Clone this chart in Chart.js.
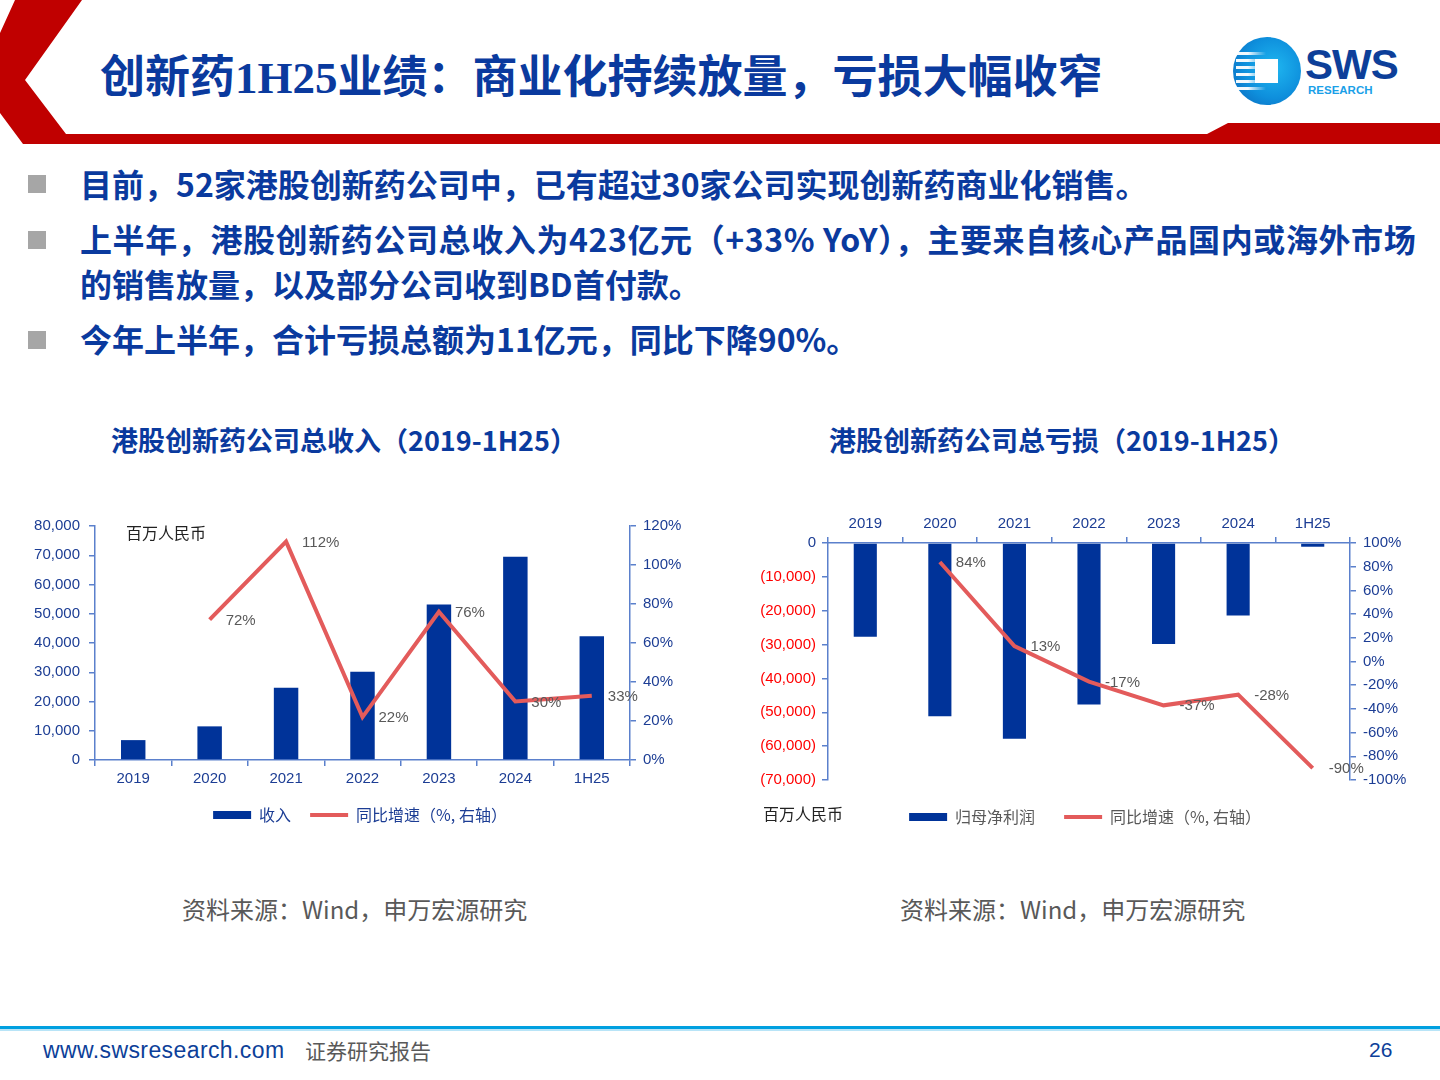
<!DOCTYPE html>
<html>
<head>
<meta charset="utf-8">
<script src="https://cdn.jsdelivr.net/npm/chart.js@4.4.0/dist/chart.umd.min.js"></script>
<style>
  body { margin: 0; background: #fff; }
  #page { position: relative; width: 1440px; height: 1080px; overflow: hidden; background: #fff;
          font-family: "Noto Sans CJK SC", sans-serif; }
  .abs { position: absolute; white-space: nowrap; }
  .title { left: 100px; top: 50px; font-size: 45px; line-height: 56px; font-weight: 700; color: #0a3a9e;
           font-family: "Liberation Serif", "Noto Sans CJK SC", serif; }
  .bullet { left: 80px; font-size: 32px; line-height: 40px; font-weight: 700; color: #0a3a9e; }
  .sq { left: 28px; width: 18px; height: 18px; background: #a6a6a6; }
  .ctitle { font-size: 27px; line-height: 36px; font-weight: 700; color: #0a3a9e; }
  .src { font-size: 24px; line-height: 32px; color: #595959; }
  .unit { font-size: 16px; line-height: 22px; color: #222; }
  .box { position: absolute; }
</style>
</head>
<body>
<div id="page">
  <svg class="abs" style="left:0;top:0" width="1440" height="150">
    <polygon fill="#c00000" points="15,0 82,0 25,80 66,134 1207,134 1228,123 1440,123 1440,144 23,144 0,113 0,33"/>
  </svg>
  <div class="abs title">创新药1H25业绩：商业化持续放量，亏损大幅收窄</div>

  <!-- logo -->
  <div class="abs" style="left:1233px;top:37px;width:68px;height:68px;border-radius:50%;
       background:radial-gradient(circle at 60% 45%, #1fb6f0 0%, #0e8fdc 55%, #0a63b8 100%);"></div>
  <div class="abs" style="left:1236px;top:52px;width:30px;height:38px;
       background:repeating-linear-gradient(180deg, rgba(255,255,255,0.95) 0 3px, rgba(255,255,255,0) 3px 7px);
       -webkit-mask:linear-gradient(90deg,#000 0%,#000 40%,transparent 100%);"></div>
  <div class="abs" style="left:1255px;top:59px;width:23px;height:24px;background:#fff;"></div>
  <div class="abs" style="left:1305px;top:40px;font-family:'Liberation Sans',Arial;font-weight:700;font-size:42px;line-height:50px;color:#0d3f99;letter-spacing:-1px;">SWS</div>
  <div class="abs" style="left:1308px;top:83px;font-family:'Liberation Sans',Arial;font-weight:700;font-size:11.5px;line-height:14px;color:#1aa0e8;">RESEARCH</div>

  <div class="abs sq" style="top:175px"></div>
  <div class="abs bullet" style="top:163px">目前，52家港股创新药公司中，已有超过30家公司实现创新药商业化销售。</div>
  <div class="abs sq" style="top:231px"></div>
  <div class="abs bullet" style="top:218px;letter-spacing:0.6px">上半年，港股创新药公司总收入为423亿元（+33% YoY），主要来自核心产品国内或海外市场</div>
  <div class="abs bullet" style="top:263px">的销售放量，以及部分公司收到BD首付款。</div>
  <div class="abs sq" style="top:331px"></div>
  <div class="abs bullet" style="top:318px">今年上半年，合计亏损总额为11亿元，同比下降90%。</div>

  <div class="abs ctitle" style="left:111px;top:422px">港股创新药公司总收入（2019-1H25）</div>
  <div class="abs ctitle" style="left:829px;top:422px">港股创新药公司总亏损（2019-1H25）</div>

  <div class="box" style="left:20px;top:508px;width:680px;height:325px"><canvas id="revChart"></canvas></div>
  <div class="box" style="left:740px;top:500px;width:690px;height:335px"><canvas id="lossChart"></canvas></div>

  <div class="abs unit" style="left:126px;top:521px">百万人民币</div>
  <div class="abs unit" style="left:763px;top:802px">百万人民币</div>

  <div class="abs src" style="left:182px;top:893px">资料来源：Wind，申万宏源研究</div>
  <div class="abs src" style="left:900px;top:893px">资料来源：Wind，申万宏源研究</div>

  <div class="abs" style="left:0;top:1026px;width:1440px;height:3px;background:#00a0e0"></div>
  <div class="abs" style="left:0;top:1029px;width:1440px;height:2px;background:#b8e4f7"></div>
  <div class="abs" style="left:43px;top:1036px;font-family:'Liberation Sans Narrow','Liberation Sans',Arial;font-size:23px;line-height:28px;color:#0d3f99;letter-spacing:0.4px">www.swsresearch.com</div>
  <div class="abs" style="left:305px;top:1036px;font-size:21px;line-height:28px;color:#595959">证券研究报告</div>
  <div class="abs" style="left:1369px;top:1036px;font-family:'Liberation Sans',Arial;font-size:21px;line-height:28px;color:#0d3f99">26</div>
</div>

<script>
// ---- data ----
var periods = ['2019', '2020', '2021', '2022', '2023', '2024', '1H25'];
var revenue = [6800, 11500, 24700, 30200, 53200, 69500, 42300];          // 百万人民币
var revenueYoY = [null, 72, 112, 22, 76, 30, 33];                        // %
var netProfit = [-27700, -51200, -57800, -47700, -29800, -21400, -1100]; // 百万人民币
var netProfitYoY = [null, 84, 13, -17, -37, -28, -90];                   // %

var barBlue = '#003399';
var lineRed = '#e35b5b';
var axisBlue = '#5b80cc';
var tickBlue = '#1c3d94';
var tickRed = '#ff0000';
var labelGray = '#595959';
var tickFont = { family: 'Liberation Sans, Arial, sans-serif', size: 15 };

// data labels to the right of each line point
var lineLabels = {
    id: 'lineLabels',
    afterDatasetsDraw: function (chart) {
        var ctx = chart.ctx;
        chart.data.datasets.forEach(function (ds, i) {
            if (ds.type !== 'line') return;
            var meta = chart.getDatasetMeta(i);
            ctx.save();
            ctx.font = '15px "Liberation Sans", Arial, sans-serif';
            ctx.fillStyle = labelGray;
            ctx.textAlign = 'left';
            ctx.textBaseline = 'middle';
            meta.data.forEach(function (pt, j) {
                if (ds.data[j] === null) return;
                ctx.fillText(ds.data[j] + '%', pt.x + 16, pt.y + 1);
            });
            ctx.restore();
        });
    }
};

function legendItems(barText, legendColor) {
    return function (chart) {
        return [
            { text: barText, fillStyle: barBlue, strokeStyle: barBlue, lineWidth: 0,
              pointStyle: 'rect', fontColor: legendColor, datasetIndex: 1 },
            { text: '同比增速（%, 右轴）', fillStyle: lineRed, strokeStyle: lineRed, lineWidth: 4,
              pointStyle: 'line', fontColor: legendColor, datasetIndex: 0 }
        ];
    };
}

function fixWidth(w) { return function (scale) { scale.width = w; }; }
function fixHeight(h) { return function (scale) { scale.height = h; }; }

function axisGrid() {
    return { display: true, drawOnChartArea: false, drawTicks: true, tickLength: 6, color: axisBlue, lineWidth: 1.5 };
}

// ================= 总收入 =================
new Chart(document.getElementById('revChart').getContext('2d'), {
    data: {
        labels: periods,
        datasets: [{
            type: 'line',
            label: '同比增速（%, 右轴）',
            data: revenueYoY,
            yAxisID: 'y1',
            borderColor: lineRed,
            borderWidth: 4,
            pointRadius: 0,
            tension: 0,
            order: 0
        }, {
            type: 'bar',
            label: '收入',
            data: revenue,
            yAxisID: 'y',
            backgroundColor: barBlue,
            barPercentage: 0.32,
            categoryPercentage: 1,
            order: 1
        }]
    },
    options: {
        responsive: true,
        maintainAspectRatio: false,
        animation: false,
        layout: { padding: { top: 12, bottom: 0, left: 0, right: 0 } },
        plugins: {
            tooltip: { enabled: false },
            legend: {
                position: 'bottom',
                labels: {
                    usePointStyle: true, pointStyleWidth: 38, boxHeight: 8, padding: 19,
                    font: { family: 'Noto Sans CJK SC', size: 16 }, color: tickBlue,
                    generateLabels: legendItems('收入', tickBlue)
                }
            }
        },
        scales: {
            x: {
                grid: Object.assign(axisGrid(), { offset: true }),
                border: { display: true, color: axisBlue, width: 1.5 },
                ticks: { color: tickBlue, font: tickFont, padding: 4, maxRotation: 0 },
                afterFit: fixHeight(28)
            },
            y: {
                position: 'left', min: 0, max: 80000,
                grid: axisGrid(),
                border: { display: true, color: axisBlue, width: 1.5 },
                ticks: { stepSize: 10000, color: tickBlue, font: tickFont, padding: 9,
                         callback: function (v) { return v.toLocaleString('en-US'); } },
                afterFit: fixWidth(75)
            },
            y1: {
                position: 'right', min: 0, max: 120,
                grid: axisGrid(),
                border: { display: true, color: axisBlue, width: 1.5 },
                ticks: { stepSize: 20, color: tickBlue, font: tickFont, padding: 7,
                         callback: function (v) { return v + '%'; } },
                afterFit: fixWidth(70)
            }
        }
    },
    plugins: [lineLabels]
});

// ================= 总亏损 =================
new Chart(document.getElementById('lossChart').getContext('2d'), {
    data: {
        labels: periods,
        datasets: [{
            type: 'line',
            label: '同比增速（%, 右轴）',
            data: netProfitYoY,
            yAxisID: 'y1',
            borderColor: lineRed,
            borderWidth: 4,
            pointRadius: 0,
            tension: 0,
            order: 0
        }, {
            type: 'bar',
            label: '归母净利润',
            data: netProfit,
            yAxisID: 'y',
            backgroundColor: barBlue,
            barPercentage: 0.31,
            categoryPercentage: 1,
            order: 1
        }]
    },
    options: {
        responsive: true,
        maintainAspectRatio: false,
        animation: false,
        layout: { padding: { top: 0, bottom: 0, left: 0, right: 0 } },
        plugins: {
            tooltip: { enabled: false },
            legend: {
                position: 'bottom',
                labels: {
                    usePointStyle: true, pointStyleWidth: 38, boxHeight: 8, padding: 29,
                    font: { family: 'Noto Sans CJK SC', size: 16 }, color: labelGray,
                    generateLabels: legendItems('归母净利润', labelGray)
                }
            }
        },
        scales: {
            x: {
                position: 'top',
                grid: Object.assign(axisGrid(), { offset: true }),
                border: { display: true, color: axisBlue, width: 1.5 },
                ticks: { color: tickBlue, font: tickFont, padding: 4, maxRotation: 0 },
                afterFit: fixHeight(43)
            },
            y: {
                position: 'left', min: -70000, max: 0,
                grid: axisGrid(),
                border: { display: true, color: axisBlue, width: 1.5 },
                ticks: { stepSize: 10000, font: tickFont, padding: 6,
                         color: function (c) { return c.tick.value === 0 ? tickBlue : tickRed; },
                         callback: function (v) {
                             return v === 0 ? '0' : '(' + Math.abs(v).toLocaleString('en-US') + ')';
                         } },
                afterFit: fixWidth(88)
            },
            y1: {
                position: 'right', min: -100, max: 100,
                grid: axisGrid(),
                border: { display: true, color: axisBlue, width: 1.5 },
                ticks: { stepSize: 20, color: tickBlue, font: tickFont, padding: 7,
                         callback: function (v) { return v + '%'; } },
                afterFit: fixWidth(80)
            }
        }
    },
    plugins: [lineLabels]
});
</script>
</body>
</html>
